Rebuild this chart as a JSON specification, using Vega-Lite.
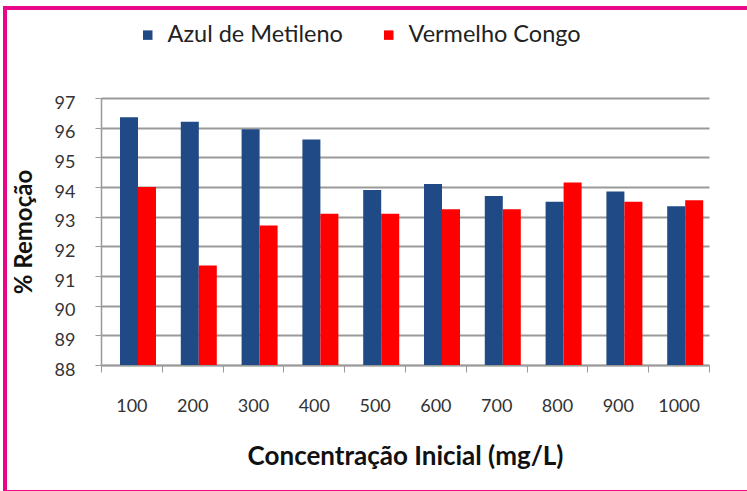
{
  "$schema": "https://vega.github.io/schema/vega-lite/v6.json",
  "width": 745,
  "height": 484,
  "autosize": {"type": "none"},
  "padding": {"left": 5, "top": 8, "right": 0, "bottom": 0},
  "background": "white",
  "config": {
    "font": "Lato",
    "view": {"stroke": "#e8078a", "strokeWidth": 4, "fill": "white"}
  },
  "data": {
    "values": [
      {"conc": "100", "corante": "Azul de Metileno", "remocao": 96.35},
      {"conc": "100", "corante": "Vermelho Congo", "remocao": 94.0},
      {"conc": "200", "corante": "Azul de Metileno", "remocao": 96.2},
      {"conc": "200", "corante": "Vermelho Congo", "remocao": 91.35},
      {"conc": "300", "corante": "Azul de Metileno", "remocao": 95.95},
      {"conc": "300", "corante": "Vermelho Congo", "remocao": 92.7},
      {"conc": "400", "corante": "Azul de Metileno", "remocao": 95.6},
      {"conc": "400", "corante": "Vermelho Congo", "remocao": 93.1},
      {"conc": "500", "corante": "Azul de Metileno", "remocao": 93.9},
      {"conc": "500", "corante": "Vermelho Congo", "remocao": 93.1},
      {"conc": "600", "corante": "Azul de Metileno", "remocao": 94.1},
      {"conc": "600", "corante": "Vermelho Congo", "remocao": 93.25},
      {"conc": "700", "corante": "Azul de Metileno", "remocao": 93.7},
      {"conc": "700", "corante": "Vermelho Congo", "remocao": 93.25},
      {"conc": "800", "corante": "Azul de Metileno", "remocao": 93.5},
      {"conc": "800", "corante": "Vermelho Congo", "remocao": 94.15},
      {"conc": "900", "corante": "Azul de Metileno", "remocao": 93.85},
      {"conc": "900", "corante": "Vermelho Congo", "remocao": 93.5},
      {"conc": "1000", "corante": "Azul de Metileno", "remocao": 93.35},
      {"conc": "1000", "corante": "Vermelho Congo", "remocao": 93.55}
    ]
  },
  "mark": {"type": "bar"},
  "encoding": {
    "x": {
      "field": "conc",
      "type": "ordinal",
      "sort": ["100", "200", "300", "400", "500", "600", "700", "800", "900", "1000"],
      "scale": {"range": [96, 704], "paddingInner": 0, "paddingOuter": 0},
      "axis": {
        "title": "Concentração Inicial (mg/L)",
        "offset": -127,
        "labelAngle": 0,
        "labelFontSize": 18,
        "labelColor": "#333333",
        "labelPadding": 25,
        "tickBand": "extent",
        "tickSize": 7,
        "tickColor": "#999999",
        "domainColor": "#999999",
        "domainWidth": 1.5,
        "titleFontSize": 26,
        "titleFontWeight": "bold",
        "titleColor": "#111111",
        "titlePadding": 28
      }
    },
    "xOffset": {
      "field": "corante",
      "type": "nominal",
      "scale": {"range": [19, 55], "paddingInner": 0, "paddingOuter": 0}
    },
    "y": {
      "field": "remocao",
      "type": "quantitative",
      "scale": {"domain": [88, 97], "zero": false, "nice": false, "range": [357, 90]},
      "axis": {
        "title": "% Remoção",
        "offset": -96,
        "values": [88, 89, 90, 91, 92, 93, 94, 95, 96, 97],
        "labelOverlap": false,
        "labelFontSize": 18,
        "labelColor": "#333333",
        "labelPadding": 20,
        "labelOffset": 5,
        "tickSize": 6,
        "tickColor": "#999999",
        "domainColor": "#999999",
        "domainWidth": 1.5,
        "grid": true,
        "gridColor": "#9a9a9a",
        "gridWidth": 2,
        "titleFontSize": 24,
        "titleFontWeight": "bold",
        "titleColor": "#111111",
        "titlePadding": 18
      }
    },
    "y2": {"datum": 88},
    "color": {
      "field": "corante",
      "type": "nominal",
      "scale": {"domain": ["Azul de Metileno", "Vermelho Congo"], "range": ["#1f4a86", "#ff0000"]},
      "legend": {
        "title": null,
        "orient": "none",
        "legendX": 131,
        "legendY": 15,
        "direction": "horizontal",
        "columns": 2,
        "columnPadding": 34,
        "symbolType": "square",
        "symbolSize": 90,
        "symbolStrokeWidth": 0,
        "labelFontSize": 23.5,
        "labelColor": "#222222",
        "labelOffset": 8,
        "labelLimit": 300
      }
    }
  }
}
